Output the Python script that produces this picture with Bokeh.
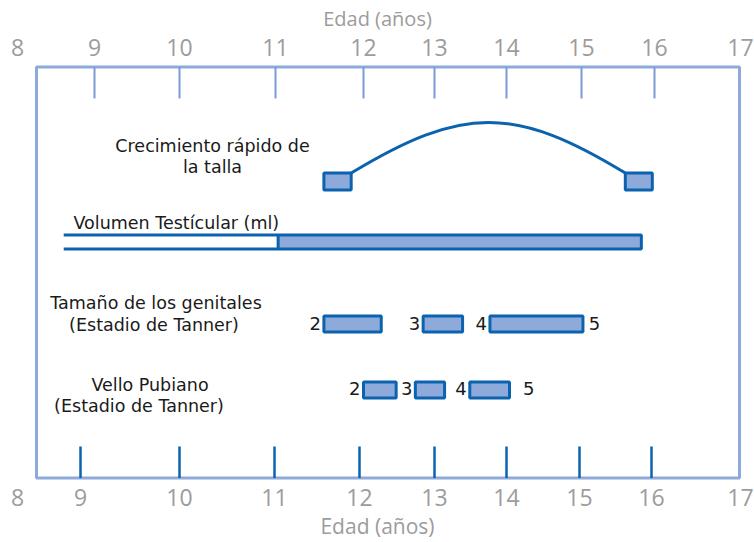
from bokeh.plotting import figure
from bokeh.models import Range1d, LinearAxis, FixedTicker, ColumnDataSource, LinearInterpolator
from bokeh.transform import transform
from bokeh.core.properties import value
from bokeh.embed import file_html
from bokeh.resources import INLINE

# ---------------- data (ages in years) ----------------
AGES = [8, 9, 10, 11, 12, 13, 14, 15, 16, 17]
AGE_LABELS = ["8", "9", "10", "11", "12", "13", "14", "15", "16", "17"]

# Crecimiento rápido de la talla: start / end markers and peak
GROWTH_START = [11.55, 15.60]
GROWTH_END = [11.86, 15.97]
GROWTH_PEAK_AGE = 13.70

# Volumen testicular
TESTIS_LINE_START = 8.60
TESTIS_START = 11.03
TESTIS_END = 15.82

# Tamaño de los genitales (Tanner)
GENITAL_STAGES = ["2", "3", "4"]
GENITAL_START = [11.55, 12.84, 13.77]
GENITAL_END = [12.25, 13.39, 15.02]
GENITAL_STAGE5 = 15.10

# Vello pubiano (Tanner)
PUBIC_STAGES = ["2", "3", "4"]
PUBIC_START = [12.00, 12.73, 13.49]
PUBIC_END = [12.46, 13.14, 14.04]
PUBIC_STAGE5 = 14.22

# ---------------- layout (hand-drawn, irregular axis) ----------------
TOP_TICK_POS = [17, 94, 179, 275, 363, 434, 506, 581, 654, 740]
BOTTOM_TICK_POS = [17, 80, 179, 274, 359, 434, 506, 579, 651, 740]

W, H = 754, 542
MB_TOP, MB_BOTTOM = 58, 54
Y_TOP = MB_TOP
Y_BOT = H - MB_BOTTOM

DARK = "#0b63b0"
FILL = "#8eaadb"
FRAME = "#8eaadb"
TICK_TOP = "#7b9cd5"
GRAY = "#9c9c9c"
TXT = "#1a1a1a"
FONT = "DejaVu Sans"
AXFONT = "Open Sans"
TXT_SHIFT = -7

age2px = LinearInterpolator(x=AGES, y=TOP_TICK_POS, clip=False)

p = figure(width=W, height=H, output_backend="svg", toolbar_location=None,
           x_range=Range1d(0, W), y_range=Range1d(Y_BOT, Y_TOP),
           min_border_left=0, min_border_right=0,
           min_border_top=MB_TOP, min_border_bottom=MB_BOTTOM,
           x_axis_location=None, y_axis_location=None)
p.grid.visible = False
p.outline_line_color = None
p.background_fill_color = "white"

# axes (labels only)
for loc, pos in (("above", TOP_TICK_POS), ("below", BOTTOM_TICK_POS)):
    ax = LinearAxis(ticker=FixedTicker(ticks=pos), axis_label="Edad (años)")
    ax.major_label_overrides = {x: l for x, l in zip(pos, AGE_LABELS)}
    ax.axis_line_color = None
    ax.major_tick_line_color = None
    ax.minor_tick_line_color = None
    ax.major_tick_in = 0
    ax.major_tick_out = 0
    ax.major_label_standoff = 3 if loc == "above" else 0
    ax.axis_label_standoff = 4 if loc == "above" else 3
    ax.major_label_text_font = AXFONT
    ax.major_label_text_font_size = "23px"
    ax.major_label_text_color = GRAY
    ax.axis_label_text_font = AXFONT
    ax.axis_label_text_font_size = "20px" if loc == "above" else "21px"
    ax.axis_label_text_font_style = "normal"
    ax.axis_label_text_color = GRAY
    p.add_layout(ax, loc)

# frame box
BOX_L, BOX_R, BOX_T, BOX_B = 36, 739, 66.5, 477.5
p.quad(left=[BOX_L], right=[BOX_R], top=[BOX_T], bottom=[BOX_B],
       fill_color=None, line_color=FRAME, line_width=3)

# tick marks inside the frame
p.segment(x0=TOP_TICK_POS[1:-1], x1=TOP_TICK_POS[1:-1],
          y0=[BOX_T] * 8, y1=[98] * 8, line_color=TICK_TOP, line_width=2)
p.segment(x0=BOTTOM_TICK_POS[1:-1], x1=BOTTOM_TICK_POS[1:-1],
          y0=[446] * 8, y1=[BOX_B] * 8, line_color=DARK, line_width=2.5)

# --- growth spurt
gs = ColumnDataSource(dict(start=GROWTH_START, end=GROWTH_END))
G_T, G_B = 172.5, 189.5
p.quad(left=transform("start", age2px), right=transform("end", age2px),
       top=G_T, bottom=G_B, source=gs, fill_color=FILL, line_color=DARK, line_width=3)
curve = ColumnDataSource(dict(a0=[GROWTH_END[0]], a1=[GROWTH_START[1]],
                              c0=[GROWTH_PEAK_AGE - 0.31], c1=[GROWTH_PEAK_AGE + 0.41]))
p.bezier(x0=transform("a0", age2px), y0=G_T, x1=transform("a1", age2px), y1=G_T,
         cx0=transform("c0", age2px), cy0=105, cx1=transform("c1", age2px), cy1=105,
         source=curve, line_color=DARK, line_width=3)

# --- testicular volume
T_T, T_B = 234.5, 248.5
tl = ColumnDataSource(dict(a0=[TESTIS_LINE_START, TESTIS_LINE_START], a1=[TESTIS_START, TESTIS_START],
                           y=[T_T, T_B]))
p.segment(x0=transform("a0", age2px), x1=transform("a1", age2px), y0="y", y1="y",
          source=tl, line_color=DARK, line_width=3)
tb = ColumnDataSource(dict(start=[TESTIS_START], end=[TESTIS_END]))
p.quad(left=transform("start", age2px), right=transform("end", age2px),
       top=T_T, bottom=T_B, source=tb, fill_color=FILL, line_color=DARK, line_width=3)

# --- Tanner bars
def tanner(starts, ends, stages, s5, top, bottom, base):
    src = ColumnDataSource(dict(start=starts, end=ends, stage=stages))
    p.quad(left=transform("start", age2px), right=transform("end", age2px),
           top=top, bottom=bottom, source=src, fill_color=FILL, line_color=DARK, line_width=3)
    p.text(x=transform("start", age2px), y=base, text="stage", source=src,
           text_align="right", text_baseline="alphabetic", x_offset=-3,
           text_font=value(FONT), text_font_size="18px", text_color=TXT)
    s5src = ColumnDataSource(dict(a=[s5], t=["5"]))
    p.text(x=transform("a", age2px), y=base, text="t", source=s5src,
           text_align="left", text_baseline="alphabetic",
           text_font=value(FONT), text_font_size="18px", text_color=TXT)

tanner(GENITAL_START, GENITAL_END, GENITAL_STAGES, GENITAL_STAGE5, 315.5, 331.5, 330 + TXT_SHIFT)
tanner(PUBIC_START, PUBIC_END, PUBIC_STAGES, PUBIC_STAGE5, 381.5, 397.5, 395 + TXT_SHIFT)

# --- row captions
cap = ColumnDataSource(dict(
    x=[212, 212, 155.5, 153.5, 149.5, 138.5],
    y=[v + TXT_SHIFT for v in (152, 173, 309, 331, 391, 412)],
    t=["Crecimiento rápido de", "la talla", "Tamaño de los genitales",
       "(Estadio de Tanner)", "Vello Pubiano", "(Estadio de Tanner)"]))
p.text(x="x", y="y", text="t", source=cap, text_align="center", text_baseline="alphabetic",
       text_font=value(FONT), text_font_size="17.5px", text_color=TXT)
p.text(x=[73], y=[229 + TXT_SHIFT], text=["Volumen Testícular (ml)"], text_align="left",
       text_baseline="alphabetic", text_font=value(FONT), text_font_size="17.5px", text_color=TXT)

open("out.html", "w").write(file_html(p, INLINE))
